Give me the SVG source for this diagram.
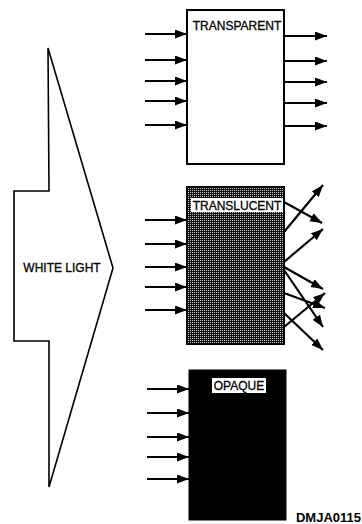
<svg xmlns="http://www.w3.org/2000/svg" width="362" height="524" viewBox="0 0 362 524">
<style>
.lbl{font-family:"Liberation Sans",Arial,sans-serif;font-size:12px;fill:#000;stroke:#000;stroke-width:0.3}
.ray{stroke:#000;stroke-width:2.2;fill:none;marker-end:url(#ah)}
.box{stroke:#000;stroke-width:2}
</style>
<defs>
<marker id="ah" markerUnits="userSpaceOnUse" markerWidth="13" markerHeight="10" refX="12" refY="4.5" orient="auto">
<path d="M0,0 L12,4.5 L0,9 Z" fill="#000"/>
</marker>
<pattern id="dots" width="2" height="2" patternUnits="userSpaceOnUse">
<rect width="2" height="2" fill="#111"/>
<rect width="1" height="1" fill="#c8c8c8"/>
</pattern>
</defs>
<g id="white-light">
<path d="M48,48 L49,191 L14,191 L14,341 L49,341 L49,487 L113,268 Z" fill="#fff" stroke="#000" stroke-width="1.6" stroke-linejoin="miter"/>
<text class="lbl" x="62" y="272" text-anchor="middle">WHITE LIGHT</text>
</g>
<g id="transparent">
<rect class="box" x="187" y="10" width="97" height="154" fill="#fff"/>
<text class="lbl" x="237" y="30" text-anchor="middle">TRANSPARENT</text>
</g>
<g id="translucent">
<rect class="box" x="187" y="187" width="97" height="157" fill="url(#dots)"/>
<rect x="191" y="198" width="92" height="14" fill="#fff"/>
<text class="lbl" x="237" y="210" text-anchor="middle">TRANSLUCENT</text>
</g>
<g id="opaque">
<rect x="189" y="370" width="97" height="150" fill="#000" stroke="#000" stroke-width="1"/>
<rect x="212" y="378" width="54" height="15" fill="#fff"/>
<text class="lbl" x="239" y="390" text-anchor="middle">OPAQUE</text>
</g>
<g id="connectors">
<line class="ray" x1="145" y1="34" x2="187" y2="34"/>
<line class="ray" x1="145" y1="60" x2="187" y2="60"/>
<line class="ray" x1="145" y1="81" x2="187" y2="81"/>
<line class="ray" x1="145" y1="101" x2="187" y2="101"/>
<line class="ray" x1="145" y1="125" x2="187" y2="125"/>
<line class="ray" x1="285" y1="36" x2="327" y2="36"/>
<line class="ray" x1="285" y1="61" x2="327" y2="61"/>
<line class="ray" x1="285" y1="82" x2="327" y2="82"/>
<line class="ray" x1="285" y1="103" x2="327" y2="103"/>
<line class="ray" x1="285" y1="126" x2="327" y2="126"/>
<line class="ray" x1="145" y1="220" x2="187" y2="220"/>
<line class="ray" x1="145" y1="244" x2="187" y2="244"/>
<line class="ray" x1="145" y1="267" x2="187" y2="267"/>
<line class="ray" x1="145" y1="287" x2="187" y2="287"/>
<line class="ray" x1="145" y1="310" x2="187" y2="310"/>
<line class="ray" x1="284" y1="202" x2="322" y2="223"/>
<line class="ray" x1="284" y1="232" x2="323" y2="185"/>
<line class="ray" x1="284" y1="262" x2="323" y2="229"/>
<line class="ray" x1="284" y1="267" x2="323" y2="289"/>
<line class="ray" x1="284" y1="270" x2="323" y2="327"/>
<line class="ray" x1="284" y1="293" x2="325" y2="308"/>
<line class="ray" x1="284" y1="327" x2="325" y2="293"/>
<line class="ray" x1="284" y1="313" x2="323" y2="350"/>
<line class="ray" x1="147" y1="389" x2="189" y2="389"/>
<line class="ray" x1="147" y1="413" x2="189" y2="413"/>
<line class="ray" x1="147" y1="437" x2="189" y2="437"/>
<line class="ray" x1="147" y1="457" x2="189" y2="457"/>
<line class="ray" x1="147" y1="479" x2="189" y2="479"/>
</g>
<text x="361" y="522" text-anchor="end" style="font-family:'Liberation Sans',Arial,sans-serif;font-size:13px;font-weight:bold;fill:#000">DMJA0115</text>
</svg>
